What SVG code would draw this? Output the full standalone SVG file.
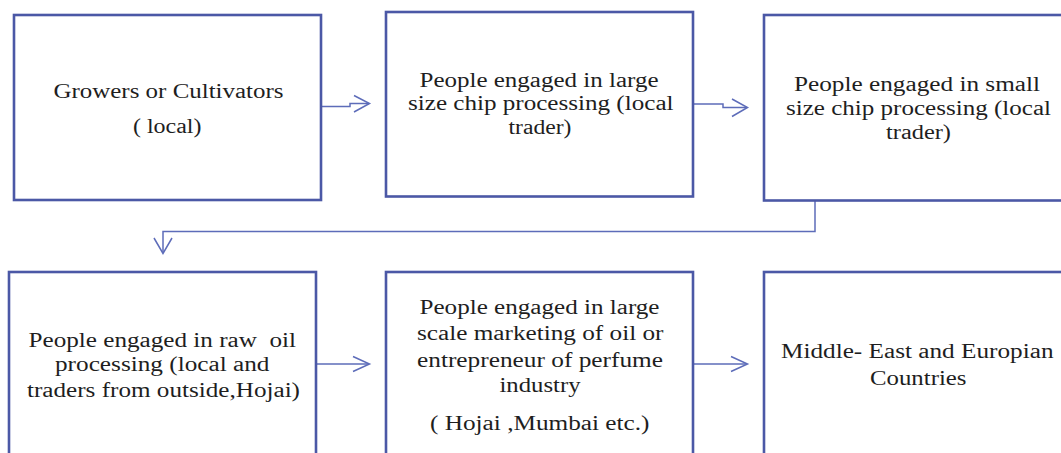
<svg xmlns="http://www.w3.org/2000/svg" width="1061" height="453" viewBox="0 0 1061 453">
<style>
.box{fill:#ffffff;stroke:#4b58a6;stroke-width:2.6}
.con{fill:none;stroke:#5d6cb9;stroke-width:1.5}
.t{font-family:'Liberation Serif','Times New Roman',Times,serif;font-size:20px;fill:#1e1e1e}
</style>
<rect width="1061" height="453" fill="#ffffff"/>
<g id="connectors">
<path class="con" d="M321,106.5 H350 V103.5 H369"/>
<polyline class="con" points="354,95.5 369.5,103.5 354,112"/>
<path class="con" d="M694,104 H723 V107.5 H747"/>
<polyline class="con" points="732,99 747.5,107.5 732,116.5"/>
<path class="con" d="M815,201 V231.5 H163 V253"/>
<polyline class="con" points="154,238 163,253.5 172,238"/>
<path class="con" d="M316,364 H369"/>
<polyline class="con" points="353,356.5 369.5,364 353,371.5"/>
<path class="con" d="M694,364 H747"/>
<polyline class="con" points="731,356.5 747.5,364 731,371.5"/>
</g>
<g id="n1">
<rect class="box" x="14" y="15" width="307" height="185"/>
<text class="t" x="53.5" y="98" textLength="230" lengthAdjust="spacingAndGlyphs">Growers or Cultivators</text>
<text class="t" x="133" y="133" textLength="68.5" lengthAdjust="spacingAndGlyphs">( local)</text>
</g>
<g id="n2">
<rect class="box" x="386" y="12" width="307" height="184.5"/>
<text class="t" x="419.5" y="87" textLength="239" lengthAdjust="spacingAndGlyphs">People engaged in large</text>
<text class="t" x="408" y="110.3" textLength="265.5" lengthAdjust="spacingAndGlyphs">size chip processing (local</text>
<text class="t" x="508.5" y="133.6" textLength="63" lengthAdjust="spacingAndGlyphs">trader)</text>
</g>
<g id="n3">
<rect class="box" x="764" y="15" width="308" height="185.5"/>
<text class="t" x="794" y="90.5" textLength="246" lengthAdjust="spacingAndGlyphs">People engaged in small</text>
<text class="t" x="786" y="114.5" textLength="265" lengthAdjust="spacingAndGlyphs">size chip processing (local</text>
<text class="t" x="886" y="138.5" textLength="65" lengthAdjust="spacingAndGlyphs">trader)</text>
</g>
<g id="n4">
<rect class="box" x="9" y="272" width="307" height="200"/>
<text class="t" x="28.5" y="346.5" textLength="267.5" lengthAdjust="spacingAndGlyphs" xml:space="preserve">People engaged in raw  oil</text>
<text class="t" x="55" y="371" textLength="214.5" lengthAdjust="spacingAndGlyphs">processing (local and</text>
<text class="t" x="27" y="396.5" textLength="273" lengthAdjust="spacingAndGlyphs">traders from outside,Hojai)</text>
</g>
<g id="n5">
<rect class="box" x="386" y="272" width="307" height="200"/>
<text class="t" x="419.5" y="314" textLength="240" lengthAdjust="spacingAndGlyphs">People engaged in large</text>
<text class="t" x="417" y="340" textLength="246.5" lengthAdjust="spacingAndGlyphs">scale marketing of oil or</text>
<text class="t" x="417" y="366.5" textLength="246" lengthAdjust="spacingAndGlyphs">entrepreneur of perfume</text>
<text class="t" x="499.5" y="391.5" textLength="81" lengthAdjust="spacingAndGlyphs">industry</text>
<text class="t" x="430" y="430" textLength="219.5" lengthAdjust="spacingAndGlyphs">( Hojai ,Mumbai etc.)</text>
</g>
<g id="n6">
<rect class="box" x="764" y="272" width="308" height="200"/>
<text class="t" x="781" y="358" textLength="272.5" lengthAdjust="spacingAndGlyphs">Middle- East and Europian</text>
<text class="t" x="870" y="385" textLength="96.5" lengthAdjust="spacingAndGlyphs">Countries</text>
</g>
</svg>
